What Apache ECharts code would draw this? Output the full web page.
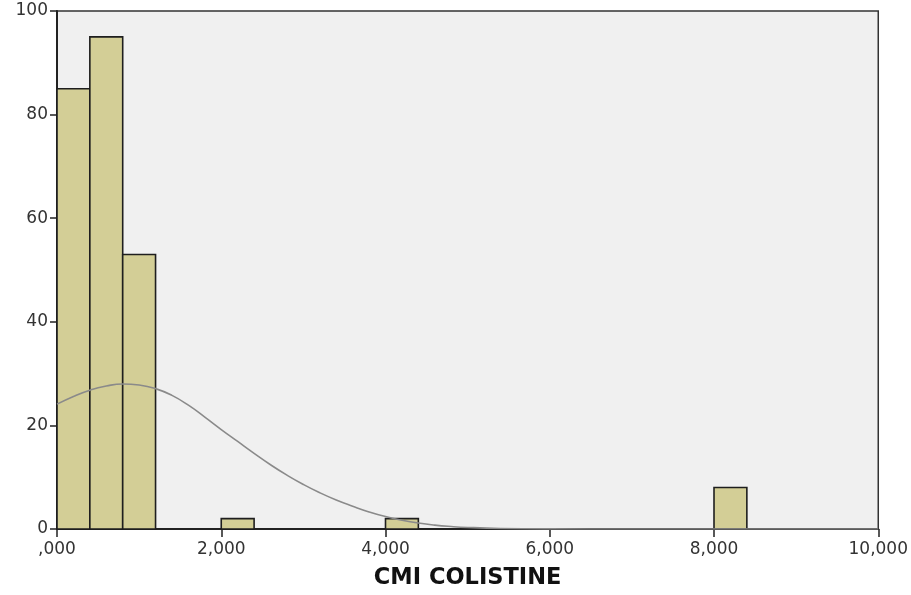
<!DOCTYPE html>
<html>
<head>
<meta charset="utf-8">
<script src="https://cdn.jsdelivr.net/npm/echarts@6/dist/echarts.min.js"></script>
<style>
  html, body { margin: 0; padding: 0; background: #ffffff; }
  #chart { width: 911px; height: 595px; }
</style>
</head>
<body>
<div id="chart"></div>
<script>
// Histogram bins: lower edge, upper edge, frequency
var binStarts = [0, 400, 800, 2000, 4000, 8000];
var binEnds = [400, 800, 1200, 2400, 4400, 8400];
var binCounts = [85, 95, 53, 2, 2, 8];

// Fitted normal curve, sampled along the x axis
var curveX = [0, 200, 400, 600, 800, 1000, 1200, 1400, 1600, 1800, 2000, 2200, 2400, 2600, 2800, 3000,
              3200, 3400, 3600, 3800, 4000, 4200, 4400, 4600, 4800, 5000, 5400, 6000, 7000, 8000, 9000, 10000];
var curveY = [24.1, 25.6, 26.8, 27.6, 28.0, 27.8, 27.1, 25.8, 23.9, 21.6, 19.2, 16.9, 14.6, 12.4, 10.4, 8.6,
              7.0, 5.6, 4.4, 3.3, 2.4, 1.7, 1.15, 0.75, 0.48, 0.3, 0.11, 0.02, 0, 0, 0, 0];

// Axis ticks
var xTicks = [0, 2000, 4000, 6000, 8000, 10000];
var xTickLabels = [',000', '2,000', '4,000', '6,000', '8,000', '10,000'];
var yTicks = [0, 20, 40, 60, 80, 100];

var binData = binStarts.map(function (s, i) { return [s, binEnds[i], binCounts[i]]; });
var curveData = curveX.map(function (x, i) { return [x, curveY[i]]; });

var chart = echarts.init(document.getElementById('chart'));
var font = '"DejaVu Sans", Verdana, sans-serif';

chart.setOption({
  animation: false,
  backgroundColor: '#ffffff',
  grid: {
    left: 57, right: 32, top: 11, bottom: 65,
    show: true,
    backgroundColor: '#f0f0f0',
    borderColor: '#333333',
    borderWidth: 1.5
  },
  xAxis: {
    type: 'value',
    min: xTicks[0],
    max: xTicks[xTicks.length - 1],
    interval: xTicks[1] - xTicks[0],
    name: 'CMI COLISTINE',
    nameLocation: 'middle',
    nameGap: 38,
    nameTextStyle: { fontFamily: font, fontSize: 22.5, fontWeight: 'bold', color: '#111111' },
    axisLine: { lineStyle: { color: '#222222', width: 2 } },
    axisTick: { show: true, length: 8, lineStyle: { color: '#222222', width: 1.5 } },
    axisLabel: {
      margin: 12,
      fontFamily: font, fontSize: 17, color: '#333333',
      formatter: function (v) {
        var i = xTicks.indexOf(v);
        return i >= 0 ? xTickLabels[i] : '';
      }
    },
    splitLine: { show: false }
  },
  yAxis: {
    type: 'value',
    min: yTicks[0],
    max: yTicks[yTicks.length - 1],
    interval: yTicks[1] - yTicks[0],
    axisLine: { show: true, lineStyle: { color: '#222222', width: 2 } },
    axisTick: { show: true, length: 7, lineStyle: { color: '#222222', width: 1.5 } },
    axisLabel: { margin: 9, fontFamily: font, fontSize: 17, color: '#333333' },
    splitLine: { show: false }
  },
  series: [
    {
      type: 'custom',
      z: 2,
      data: binData,
      encode: { x: [0, 1], y: 2 },
      renderItem: function (params, api) {
        var p0 = api.coord([api.value(0), 0]);
        var p1 = api.coord([api.value(1), api.value(2)]);
        return {
          type: 'rect',
          shape: { x: p0[0], y: p1[1], width: p1[0] - p0[0], height: p0[1] - p1[1] },
          style: { fill: '#d3ce96', stroke: '#1e1e1e', lineWidth: 1.6 }
        };
      }
    },
    {
      type: 'line',
      z: 3,
      data: curveData,
      smooth: true,
      showSymbol: false,
      lineStyle: { color: '#8a8a8a', width: 1.6 }
    }
  ]
});
</script>
</body>
</html>
